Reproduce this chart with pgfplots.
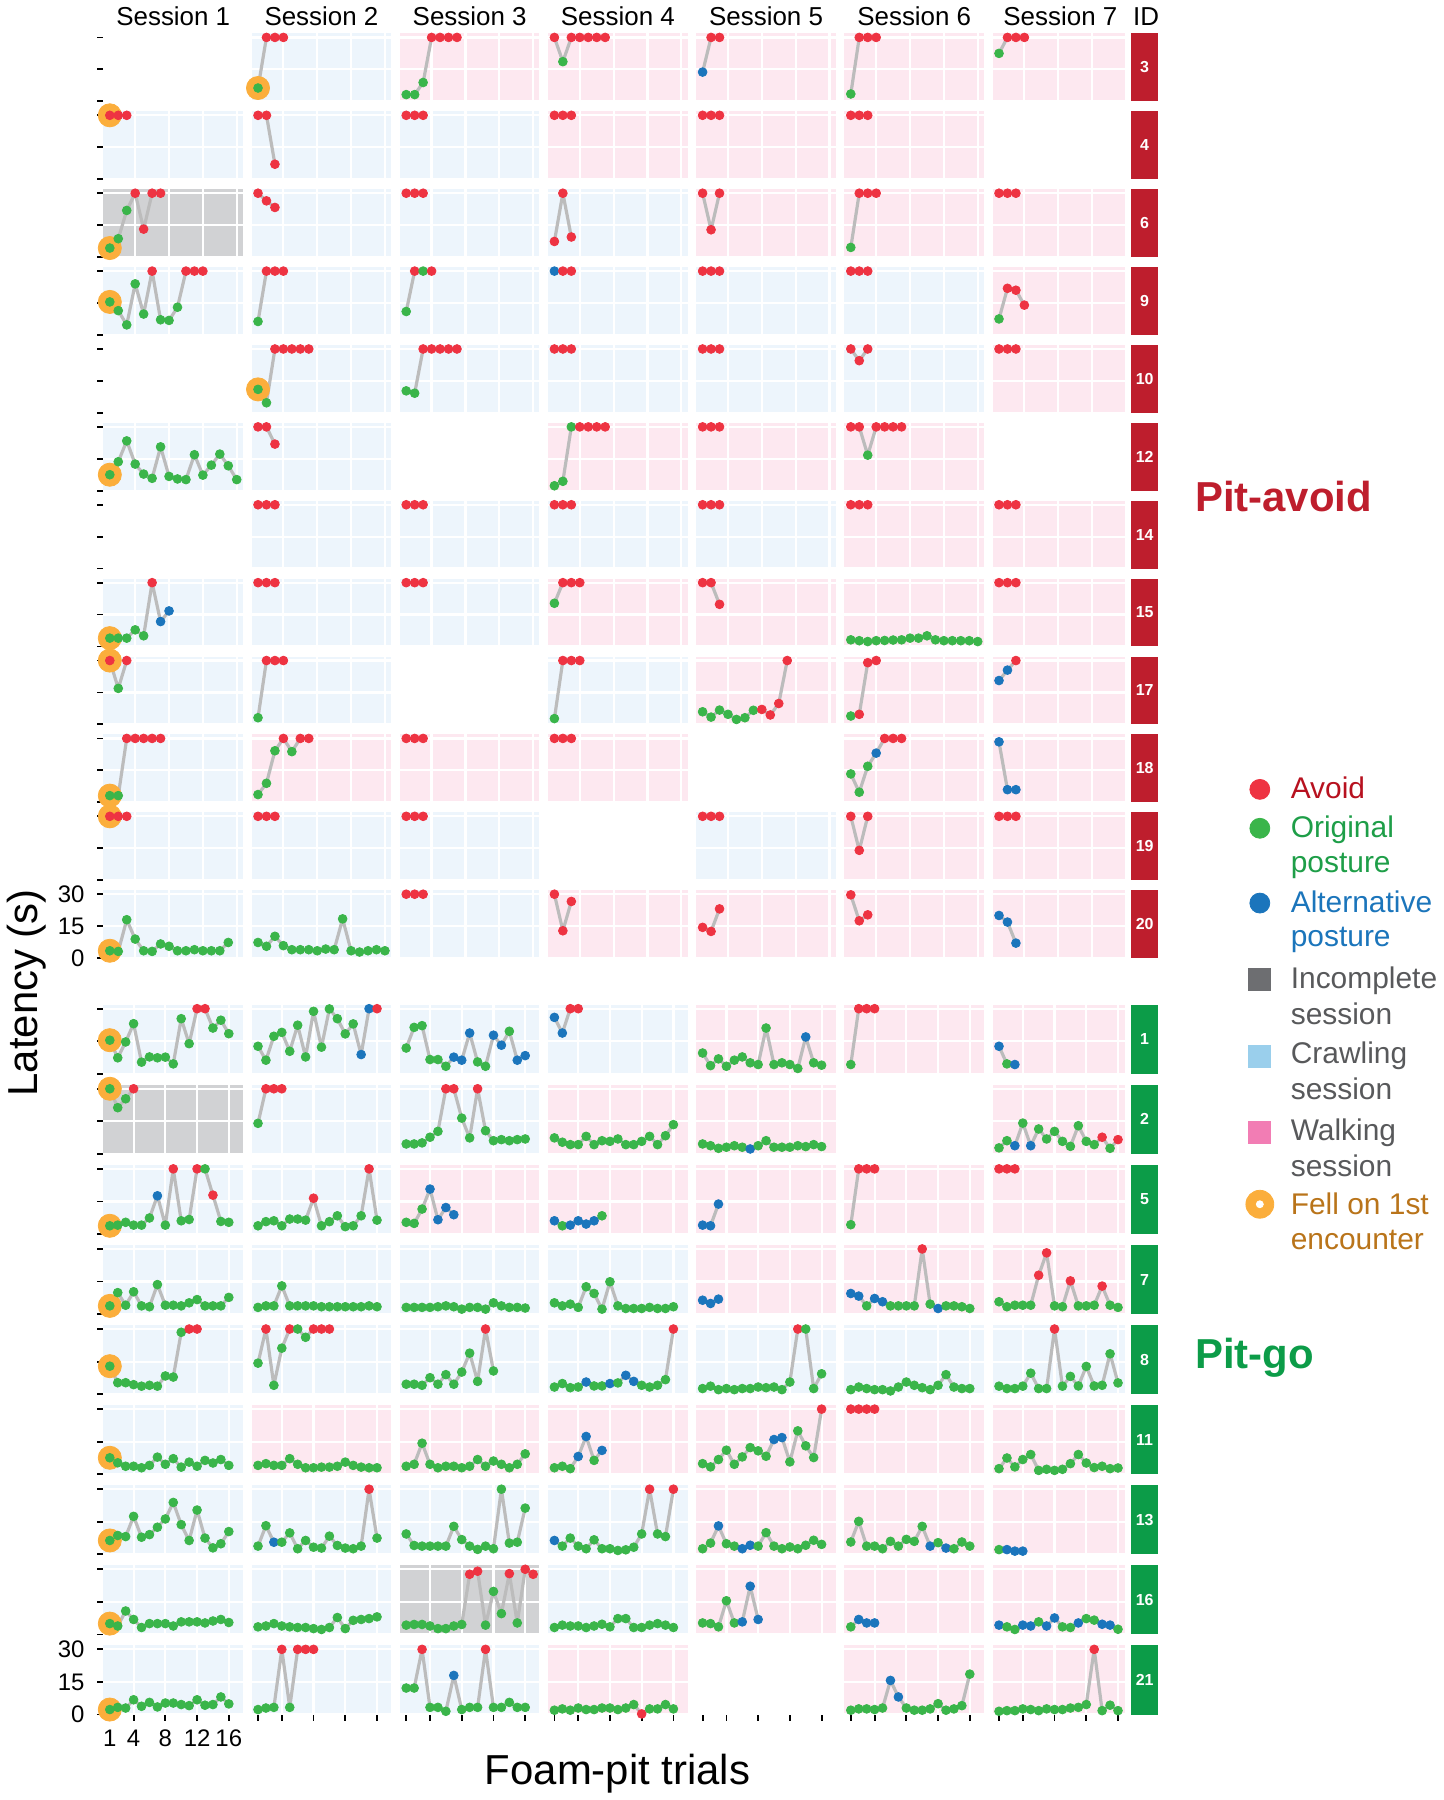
\documentclass[border=0pt]{standalone}
\usepackage{fontspec}
\setmainfont{Liberation Sans}
\usepackage{pgfplots}
\pgfplotsset{compat=1.18}

\definecolor{cr}{HTML}{EE3342}
\definecolor{cg}{HTML}{3AB54A}
\definecolor{cb}{HTML}{1B75BC}
\definecolor{co}{HTML}{FBAE3C}
\definecolor{lg}{HTML}{BCBCBC}
\definecolor{bgc}{HTML}{EDF5FC}
\definecolor{bgw}{HTML}{FDE8F0}
\definecolor{bgi}{HTML}{D1D2D4}
\definecolor{stA}{HTML}{BE1E2D}
\definecolor{stG}{HTML}{0C9C48}
\definecolor{txA}{HTML}{B7111F}
\definecolor{txG}{HTML}{1E9E48}
\definecolor{txB}{HTML}{1B75BB}
\definecolor{txK}{HTML}{58595B}
\definecolor{txO}{HTML}{B9741A}
\definecolor{sqI}{HTML}{6D6E71}
\definecolor{sqC}{HTML}{9ACFEC}
\definecolor{sqW}{HTML}{F27DB4}

\pgfplotsset{
  panel/.style={scale only axis, anchor=south west, ymin=0, ymax=31.9,
    axis line style={draw=none}, xtick={4,8,12,16}, ytick={0,15,30},
    grid=major, grid style={white, line width=1.1pt},
    xticklabel={\relax}, yticklabel={\relax}, tick style={draw=none},
    xtick pos=bottom, ytick pos=left, tick align=outside, major tick length=3pt,
    clip=false, tick label style={font=\fontsize{12}{14}\selectfont},
    yticklabel style={xshift=-3pt}, xticklabel style={yshift=-1pt}},
  c1/.style={ytick style={draw=black, line width=0.9pt}},
  c2/.style={}, c3/.style={}, c4/.style={}, c5/.style={}, c6/.style={}, c7/.style={},
  bot/.style={xtick style={draw=black, line width=0.9pt}, extra x ticks={1},
    extra x tick style={grid=none}},
  ylab/.style={yticklabels={0,15,30}},
  xlab/.style={xticklabels={4,8,12,16}, extra x tick labels={1}},
  ln/.style={no marks, draw=lg, line width=1.6pt, line join=round, line cap=round},
  pts/.style={only marks, scatter, point meta=explicit symbolic, mark size=2.2pt,
    scatter/classes={g={mark=*, draw=cg, fill=cg}, r={mark=*, draw=cr, fill=cr},
      b={mark=*, draw=cb, fill=cb}}},
  fell/.style={only marks, mark=*, mark size=5.8pt, draw=co, fill=co},
}

% one panel of the pit-avoid group: [options]{session}{row}{background}{plots}
\newcommand{\PA}[5][]{%
  \pgfmathsetmacro\xx{(100.5+148.6*(#2-1))*0.5}%
  \pgfmathsetmacro\yy{(1800-99-78.1*#3)*0.5}%
  \pgfmathsetmacro\ww{#2==7?66.5:70}%
  \pgfmathsetmacro\xm{#2==7?15.93:16.75}%
  \begin{axis}[panel, c#2, at={(\xx pt,\yy pt)}, width=\ww pt, height=34pt,
    xmin=0.25, xmax=\xm, axis background/.style={fill=#4}, #1]
  #5
  \end{axis}}
% one panel of the pit-go group
\newcommand{\PG}[5][]{%
  \pgfmathsetmacro\xx{(100.5+148.6*(#2-1))*0.5}%
  \pgfmathsetmacro\yy{(1800-1074.3-80.3*#3)*0.5}%
  \pgfmathsetmacro\ww{#2==7?66.5:70}%
  \pgfmathsetmacro\xm{#2==7?16.92:17.8}%
  \begin{axis}[panel, c#2, at={(\xx pt,\yy pt)}, width=\ww pt, height=34.75pt,
    xmin=0.2, xmax=\xm, axis background/.style={fill=#4}, #1]
  #5
  \end{axis}}
\newcommand{\D}[1]{\addplot[ln] coordinates {#1}; \addplot[pts] coordinates {#1};}
\newcommand{\F}[1]{\addplot[fell] coordinates {#1};}

\begin{document}
\begin{tikzpicture}

% ---------------- Pit-avoid ----------------
% ID 3
\PA{1}{0}{none}{}
\PA{2}{0}{bgc}{\F{(1,6.2)}\D{(1,6.2)[g] (2,30)[r] (3,30)[r] (4,30)[r]}}
\PA{3}{0}{bgw}{\D{(1,3.1)[g] (2,3.1)[g] (3,8.8)[g] (4,30)[r] (5,30)[r] (6,30)[r] (7,30)[r]}}
\PA{4}{0}{bgw}{\D{(1,30)[r] (2,18.6)[g] (3,30)[r] (4,30)[r] (5,30)[r] (6,30)[r] (7,30)[r]}}
\PA{5}{0}{bgw}{\D{(1,13.7)[b] (2,30)[r] (3,30)[r]}}
\PA{6}{0}{bgw}{\D{(1,3.4)[g] (2,30)[r] (3,30)[r] (4,30)[r]}}
\PA{7}{0}{bgw}{\D{(1,22.5)[g] (2,30)[r] (3,30)[r] (4,30)[r]}}
% ID 4
\PA{1}{1}{bgc}{\F{(1,30)}\D{(1,30)[r] (2,30)[r] (3,30)[r]}}
\PA{2}{1}{bgc}{\D{(1,30)[r] (2,30)[r] (3,7)[r]}}
\PA{3}{1}{bgc}{\D{(1,30)[r] (2,30)[r] (3,30)[r]}}
\PA{4}{1}{bgw}{\D{(1,30)[r] (2,30)[r] (3,30)[r]}}
\PA{5}{1}{bgw}{\D{(1,30)[r] (2,30)[r] (3,30)[r]}}
\PA{6}{1}{bgw}{\D{(1,30)[r] (2,30)[r] (3,30)[r]}}
% ID 6
\PA{1}{2}{bgi}{\F{(1,4.2)}\D{(1,4.2)[g] (2,8.6)[g] (3,21.9)[g] (4,30)[r] (5,13.1)[r] (6,30)[r] (7,30)[r]}}
\PA{2}{2}{bgc}{\D{(1,30)[r] (2,26.4)[r] (3,23.3)[r]}}
\PA{3}{2}{bgc}{\D{(1,30)[r] (2,30)[r] (3,30)[r]}}
\PA{4}{2}{bgc}{\D{(1,7.3)[r] (2,30)[r] (3,9.4)[r]}}
\PA{5}{2}{bgw}{\D{(1,30)[r] (2,12.8)[r] (3,30)[r]}}
\PA{6}{2}{bgw}{\D{(1,4.5)[g] (2,30)[r] (3,30)[r] (4,30)[r]}}
\PA{7}{2}{bgw}{\D{(1,30)[r] (2,30)[r] (3,30)[r]}}
% ID 9
\PA{1}{3}{bgc}{\F{(1,15.5)}\D{(1,15.5)[g] (2,11.4)[g] (3,4.7)[g] (4,24)[g] (5,9.8)[g] (6,30)[r] (7,7.1)[g] (8,6.8)[g] (9,13)[g] (10,30)[r] (11,30)[r] (12,30)[r]}}
\PA{2}{3}{bgc}{\D{(1,6.3)[g] (2,30)[r] (3,30)[r] (4,30)[r]}}
\PA{3}{3}{bgc}{\D{(1,11)[g] (2,30)[r] (3,30)[g] (4,30)[r]}}
\PA{4}{3}{bgc}{\D{(1,30)[b] (2,30)[r] (3,30)[r]}}
\PA{5}{3}{bgc}{\D{(1,30)[r] (2,30)[r] (3,30)[r]}}
\PA{6}{3}{bgc}{\D{(1,30)[r] (2,30)[r] (3,30)[r]}}
\PA{7}{3}{bgw}{\D{(1,7.5)[g] (2,21.9)[r] (3,21)[r] (4,14)[r]}}
% ID 10
\PA{1}{4}{none}{}
\PA{2}{4}{bgc}{\F{(1,11)}\D{(1,11)[g] (2,4.7)[g] (3,30)[r] (4,30)[r] (5,30)[r] (6,30)[r] (7,30)[r]}}
\PA{3}{4}{bgc}{\D{(1,10.3)[g] (2,9.2)[g] (3,30)[r] (4,30)[r] (5,30)[r] (6,30)[r] (7,30)[r]}}
\PA{4}{4}{bgc}{\D{(1,30)[r] (2,30)[r] (3,30)[r]}}
\PA{5}{4}{bgc}{\D{(1,30)[r] (2,30)[r] (3,30)[r]}}
\PA{6}{4}{bgc}{\D{(1,30)[r] (2,24.5)[r] (3,30)[r]}}
\PA{7}{4}{bgw}{\D{(1,30)[r] (2,30)[r] (3,30)[r]}}
% ID 12
\PA{1}{5}{bgc}{\F{(1,7.5)}\D{(1,7.5)[g] (2,13.6)[g] (3,23.4)[g] (4,12.5)[g] (5,7.8)[g] (6,5.8)[g] (7,20.6)[g] (8,6.7)[g] (9,5.5)[g] (10,5.2)[g] (11,16.9)[g] (12,7.3)[g] (13,12)[g] (14,17.2)[g] (15,11.7)[g] (16,5.2)[g]}}
\PA{2}{5}{bgc}{\D{(1,30)[r] (2,30)[r] (3,21.9)[r]}}
\PA{4}{5}{bgw}{\D{(1,2.3)[g] (2,4.4)[g] (3,30)[g] (4,30)[r] (5,30)[r] (6,30)[r] (7,30)[r]}}
\PA{5}{5}{bgw}{\D{(1,30)[r] (2,30)[r] (3,30)[r]}}
\PA{6}{5}{bgw}{\D{(1,30)[r] (2,30)[r] (3,16.7)[g] (4,30)[r] (5,30)[r] (6,30)[r] (7,30)[r]}}
% ID 14
\PA{1}{6}{none}{}
\PA{2}{6}{bgc}{\D{(1,30)[r] (2,30)[r] (3,30)[r]}}
\PA{3}{6}{bgc}{\D{(1,30)[r] (2,30)[r] (3,30)[r]}}
\PA{4}{6}{bgc}{\D{(1,30)[r] (2,30)[r] (3,30)[r]}}
\PA{5}{6}{bgc}{\D{(1,30)[r] (2,30)[r] (3,30)[r]}}
\PA{6}{6}{bgw}{\D{(1,30)[r] (2,30)[r] (3,30)[r]}}
\PA{7}{6}{bgw}{\D{(1,30)[r] (2,30)[r] (3,30)[r]}}
% ID 15
\PA{1}{7}{bgc}{\F{(1,3.9)}\D{(1,3.9)[g] (2,3.9)[g] (3,3.9)[g] (4,7.8)[g] (5,5)[g] (6,30)[r] (7,11.7)[b] (8,16.7)[b]}}
\PA{2}{7}{bgc}{\D{(1,30)[r] (2,30)[r] (3,30)[r]}}
\PA{3}{7}{bgc}{\D{(1,30)[r] (2,30)[r] (3,30)[r]}}
\PA{4}{7}{bgw}{\D{(1,20.3)[g] (2,30)[r] (3,30)[r] (4,30)[r]}}
\PA{5}{7}{bgw}{\D{(1,30)[r] (2,30)[r] (3,19.8)[r]}}
\PA{6}{7}{bgw}{\D{(1,3.1)[g] (2,2.7)[g] (3,2.3)[g] (4,2.7)[g] (5,2.8)[g] (6,3)[g] (7,3.1)[g] (8,3.9)[g] (9,3.9)[g] (10,5)[g] (11,3.1)[g] (12,2.7)[g] (13,2.7)[g] (14,2.7)[g] (15,2.7)[g] (16,2.3)[g]}}
\PA{7}{7}{bgw}{\D{(1,30)[r] (2,30)[r] (3,30)[r]}}
% ID 17
\PA{1}{8}{bgc}{\F{(1,30)}\D{(1,30)[r] (2,16.9)[g] (3,30)[r]}}
\PA{2}{8}{bgc}{\D{(1,3.1)[g] (2,30)[r] (3,30)[r] (4,30)[r]}}
\PA{4}{8}{bgc}{\D{(1,2.7)[g] (2,30)[r] (3,30)[r] (4,30)[r]}}
\PA{5}{8}{bgw}{\D{(1,5.9)[g] (2,3.4)[g] (3,6.7)[g] (4,4.7)[g] (5,2.3)[g] (6,3.1)[g] (7,6.6)[g] (8,7)[r] (9,4.4)[r] (10,9.8)[r] (11,30)[r]}}
\PA{6}{8}{bgw}{\D{(1,3.9)[g] (2,4.7)[r] (3,29)[r] (4,30)[r]}}
\PA{7}{8}{bgw}{\D{(1,20.6)[b] (2,25.5)[b] (3,30)[r]}}
% ID 18
\PA{1}{9}{bgc}{\F{(1,3.1)}\D{(1,3.1)[g] (2,3.1)[g] (3,30)[r] (4,30)[r] (5,30)[r] (6,30)[r] (7,30)[r]}}
\PA{2}{9}{bgw}{\D{(1,3.6)[g] (2,8.9)[g] (3,24.2)[g] (4,30)[r] (5,23.8)[g] (6,30)[r] (7,30)[r]}}
\PA{3}{9}{bgw}{\D{(1,30)[r] (2,30)[r] (3,30)[r]}}
\PA{4}{9}{bgw}{\D{(1,30)[r] (2,30)[r] (3,30)[r]}}
\PA{6}{9}{bgw}{\D{(1,13.3)[g] (2,4.7)[g] (3,16.9)[g] (4,23.1)[b] (5,30)[r] (6,30)[r] (7,30)[r]}}
\PA{7}{9}{bgw}{\D{(1,28.4)[b] (2,5.9)[b] (3,5.9)[b]}}
% ID 19
\PA{1}{10}{bgc}{\F{(1,30)}\D{(1,30)[r] (2,30)[r] (3,30)[r]}}
\PA{2}{10}{bgc}{\D{(1,30)[r] (2,30)[r] (3,30)[r]}}
\PA{3}{10}{bgc}{\D{(1,30)[r] (2,30)[r] (3,30)[r]}}
\PA{5}{10}{bgc}{\D{(1,30)[r] (2,30)[r] (3,30)[r]}}
\PA{6}{10}{bgw}{\D{(1,30)[r] (2,14)[r] (3,30)[r]}}
\PA{7}{10}{bgw}{\D{(1,30)[r] (2,30)[r] (3,30)[r]}}
% ID 20
\PA[ylab]{1}{11}{bgc}{\F{(1,3.4)}\D{(1,3.4)[g] (2,3.1)[g] (3,18)[g] (4,8.9)[g] (5,3.4)[g] (6,3.1)[g] (7,6.6)[g] (8,5.5)[g] (9,3.4)[g] (10,3.4)[g] (11,3.9)[g] (12,3.4)[g] (13,3.4)[g] (14,3.4)[g] (15,7.3)[g]}}
\PA{2}{11}{bgc}{\D{(1,7.3)[g] (2,5.5)[g] (3,10.2)[g] (4,5.8)[g] (5,3.9)[g] (6,3.9)[g] (7,3.9)[g] (8,3.4)[g] (9,4.2)[g] (10,3.9)[g] (11,18.4)[g] (12,3.4)[g] (13,2.8)[g] (14,3.4)[g] (15,3.9)[g] (16,3.4)[g]}}
\PA{3}{11}{bgc}{\D{(1,30)[r] (2,30)[r] (3,30)[r]}}
\PA{4}{11}{bgw}{\D{(1,30)[r] (2,12.8)[r] (3,26.6)[r]}}
\PA{5}{11}{bgw}{\D{(1,14.4)[r] (2,12.5)[r] (3,23.1)[r]}}
\PA{6}{11}{bgw}{\D{(1,29.7)[r] (2,17.5)[r] (3,20.3)[r]}}
\PA{7}{11}{bgw}{\D{(1,20)[b] (2,16.9)[b] (3,7)[b]}}

% ---------------- Pit-go ----------------
% ID 1
\PG{1}{0}{bgc}{\F{(1,15.5)}\D{(1,15.5)[g] (2,7.4)[g] (3,14.7)[g] (4,23.1)[g] (5,5.4)[g] (6,7.8)[g] (7,7.4)[g] (8,7.7)[g] (9,4.6)[g] (10,25.4)[g] (11,13.9)[g] (12,30)[r] (13,30)[r] (14,21.1)[g] (15,24.7)[g] (16,18.5)[g]}}
\PG{2}{0}{bgc}{\D{(1,12.7)[g] (2,6.3)[g] (3,17.3)[g] (4,19.1)[g] (5,10.4)[g] (6,22.4)[g] (7,7.8)[g] (8,28.8)[g] (9,12.3)[g] (10,29.9)[g] (11,25.4)[g] (12,18.4)[g] (13,23)[g] (14,8.9)[b] (15,30)[b] (16,30)[r]}}
\PG{3}{0}{bgc}{\D{(1,11.9)[g] (2,21.4)[g] (3,22.2)[g] (4,6.6)[g] (5,6.6)[g] (6,3.5)[g] (7,7.7)[b] (8,6.3)[b] (9,18.8)[b] (10,5.5)[g] (11,3.5)[g] (12,17.8)[b] (13,13.2)[b] (14,19.6)[g] (15,6.3)[b] (16,8.4)[b]}}
\PG{4}{0}{bgc}{\D{(1,26)[b] (2,18.8)[b] (3,30)[r] (4,30)[r]}}
\PG{5}{0}{bgw}{\D{(1,9.6)[g] (2,3.8)[g] (3,6.9)[g] (4,3.5)[g] (5,6.3)[g] (6,7.8)[g] (7,5.1)[g] (8,4.3)[g] (9,21.1)[g] (10,4.3)[g] (11,5.1)[g] (12,4.3)[g] (13,2.5)[g] (14,17)[b] (15,5.1)[g] (16,4)[g]}}
\PG{6}{0}{bgw}{\D{(1,4.3)[g] (2,30)[r] (3,30)[r] (4,30)[r]}}
\PG{7}{0}{bgw}{\D{(1,12.7)[b] (2,4.6)[g] (3,4.3)[b]}}
% ID 2
\PG{1}{1}{bgi}{\F{(1,30)}\D{(1,30)[g] (2,21.3)[g] (3,25.4)[g] (4,30)[r]}}
\PG{2}{1}{bgc}{\D{(1,14.1)[g] (2,30)[r] (3,30)[r] (4,30)[r]}}
\PG{3}{1}{bgc}{\D{(1,4.6)[g] (2,4.6)[g] (3,5.1)[g] (4,7.7)[g] (5,10.4)[g] (6,30)[r] (7,30)[r] (8,16.5)[g] (9,7.4)[g] (10,30)[r] (11,10.7)[g] (12,6.1)[g] (13,6.6)[g] (14,6.1)[g] (15,6.6)[g] (16,6.9)[g]}}
\PG{4}{1}{bgw}{\D{(1,7.4)[g] (2,5.4)[g] (3,4.3)[g] (4,4.3)[g] (5,8.1)[g] (6,4.3)[g] (7,6.1)[g] (8,5.8)[g] (9,6.9)[g] (10,4.3)[g] (11,4.3)[g] (12,5.8)[g] (13,8.1)[g] (14,4.3)[g] (15,8.4)[g] (16,13.5)[g]}}
\PG{5}{1}{bgw}{\D{(1,4.6)[g] (2,3.8)[g] (3,2.6)[g] (4,3.1)[g] (5,3.8)[g] (6,3.1)[g] (7,2.3)[b] (8,3.8)[g] (9,6.1)[g] (10,3.1)[g] (11,3.1)[g] (12,3.1)[g] (13,3.8)[g] (14,3.4)[g] (15,4.3)[g] (16,3.4)[g]}}
\PG{7}{1}{bgw}{\D{(1,2.8)[g] (2,6.1)[g] (3,3.8)[b] (4,14.2)[g] (5,3.8)[b] (6,11.5)[g] (7,6.9)[g] (8,10.4)[g] (9,5.8)[g] (10,3.5)[g] (11,13)[g] (12,5.8)[g] (13,4.3)[g] (14,7.7)[r] (15,2.6)[g] (16,6.6)[r]}}
% ID 5
\PG{1}{2}{bgc}{\F{(1,3.8)}\D{(1,3.8)[g] (2,4.1)[g] (3,5.4)[g] (4,4.1)[g] (5,4.1)[g] (6,7.4)[g] (7,17.6)[b] (8,4.1)[g] (9,30)[r] (10,6.1)[g] (11,6.7)[g] (12,30)[r] (13,30)[g] (14,17.9)[r] (15,5.8)[g] (16,5.4)[g]}}
\PG{2}{2}{bgc}{\D{(1,3.8)[g] (2,5.7)[g] (3,6.1)[g] (4,3.8)[g] (5,6.9)[g] (6,6.9)[g] (7,6.4)[g] (8,16.5)[r] (9,3.8)[g] (10,5.7)[g] (11,8.4)[g] (12,3.4)[g] (13,3.8)[g] (14,8.4)[g] (15,30)[r] (16,6.4)[g]}}
\PG{3}{2}{bgw}{\D{(1,5.4)[g] (2,4.9)[g] (3,11.5)[g] (4,20.7)[b] (5,6.6)[b] (6,12.2)[b] (7,8.9)[b]}}
\PG{4}{2}{bgw}{\D{(1,6.1)[b] (2,3.8)[g] (3,4.1)[b] (4,6.1)[b] (5,4.6)[b] (6,6.1)[b] (7,8.4)[g]}}
\PG{5}{2}{bgw}{\D{(1,4.1)[b] (2,3.8)[b] (3,13.8)[b]}}
\PG{6}{2}{bgw}{\D{(1,4.3)[g] (2,30)[r] (3,30)[r] (4,30)[r]}}
\PG{7}{2}{bgw}{\D{(1,30)[r] (2,30)[r] (3,30)[r]}}
% ID 7
\PG{1}{3}{bgc}{\F{(1,3.8)}\D{(1,3.8)[g] (2,9.9)[g] (3,4.1)[g] (4,10.3)[g] (5,3.8)[g] (6,3.4)[g] (7,13.6)[g] (8,4.1)[g] (9,4.1)[g] (10,3.8)[g] (11,5.2)[g] (12,6.7)[g] (13,3.8)[g] (14,3.8)[g] (15,3.8)[g] (16,7.7)[g]}}
\PG{2}{3}{bgc}{\D{(1,3.1)[g] (2,3.8)[g] (3,3.8)[g] (4,13)[g] (5,3.8)[g] (6,3.8)[g] (7,3.8)[g] (8,3.8)[g] (9,3.4)[g] (10,3.4)[g] (11,3.4)[g] (12,3.4)[g] (13,3.4)[g] (14,3.4)[g] (15,3.8)[g] (16,3.4)[g]}}
\PG{3}{3}{bgc}{\D{(1,3.1)[g] (2,3.1)[g] (3,3.1)[g] (4,3.1)[g] (5,3.4)[g] (6,3.8)[g] (7,3.4)[g] (8,2.3)[g] (9,3.1)[g] (10,3.1)[g] (11,2.3)[g] (12,5.2)[g] (13,3.8)[g] (14,3.1)[g] (15,3.1)[g] (16,2.8)[g]}}
\PG{4}{3}{bgc}{\D{(1,5.2)[g] (2,3.8)[g] (3,4.6)[g] (4,3.1)[g] (5,12.6)[g] (6,9.5)[g] (7,2.3)[g] (8,14.9)[g] (9,3.8)[g] (10,2.6)[g] (11,2.6)[g] (12,2.6)[g] (13,3.1)[g] (14,2.6)[g] (15,2.6)[g] (16,3.4)[g]}}
\PG{5}{3}{bgw}{\D{(1,6.4)[b] (2,4.9)[b] (3,6.9)[b]}}
\PG{6}{3}{bgw}{\D{(1,9.5)[b] (2,8.3)[b] (3,3.8)[g] (4,7.2)[b] (5,5.7)[b] (6,3.8)[g] (7,3.8)[g] (8,3.8)[g] (9,3.8)[g] (10,30)[r] (11,4.6)[g] (12,2.6)[b] (13,3.8)[g] (14,3.8)[g] (15,3.4)[g] (16,2.6)[g]}}
\PG{7}{3}{bgw}{\D{(1,5.7)[g] (2,3.4)[g] (3,4.1)[g] (4,4.1)[g] (5,4.1)[g] (6,17.9)[r] (7,28.2)[r] (8,3.8)[g] (9,3.4)[g] (10,15.3)[r] (11,3.8)[g] (12,3.8)[g] (13,4.1)[g] (14,12.9)[r] (15,4.1)[g] (16,3.1)[g]}}
% ID 8
\PG{1}{4}{bgc}{\F{(1,12.9)}\D{(1,12.9)[g] (2,5.3)[g] (3,5.3)[g] (4,4.4)[g] (5,3.7)[g] (6,4.1)[g] (7,3.7)[g] (8,8.4)[g] (9,7.9)[g] (10,28.5)[g] (11,30)[r] (12,30)[r]}}
\PG{2}{4}{bgc}{\D{(1,14.3)[g] (2,30)[r] (3,4.1)[g] (4,21.2)[g] (5,30)[r] (6,30)[g] (7,26.2)[g] (8,30)[r] (9,30)[r] (10,30)[r]}}
\PG{3}{4}{bgc}{\D{(1,4.6)[g] (2,4.6)[g] (3,4.1)[g] (4,7.6)[g] (5,4.6)[g] (6,9)[g] (7,4.6)[g] (8,10.2)[g] (9,18.9)[g] (10,5.9)[g] (11,30)[r] (12,10.7)[g]}}
\PG{4}{4}{bgc}{\D{(1,3.3)[g] (2,4.9)[g] (3,3)[g] (4,3.3)[g] (5,5.6)[b] (6,3.8)[g] (7,3.8)[g] (8,4.9)[b] (9,5.2)[g] (10,8.7)[b] (11,5.9)[b] (12,4.1)[g] (13,3.3)[g] (14,4.1)[g] (15,6.7)[g] (16,30)[r]}}
\PG{5}{4}{bgc}{\D{(1,2.6)[g] (2,3.7)[g] (3,2.1)[g] (4,2.6)[g] (5,2.1)[g] (6,2.6)[g] (7,2.6)[g] (8,3.3)[g] (9,3)[g] (10,3.3)[g] (11,2.1)[g] (12,5.6)[g] (13,30)[r] (14,30)[g] (15,2.6)[g] (16,9.4)[g]}}
\PG{6}{4}{bgc}{\D{(1,2.1)[g] (2,3.3)[g] (3,2.6)[g] (4,2.1)[g] (5,2.1)[g] (6,1.5)[g] (7,3.3)[g] (8,5.6)[g] (9,4.1)[g] (10,3)[g] (11,2.1)[g] (12,4.1)[g] (13,9)[g] (14,3.3)[g] (15,2.6)[g] (16,2.6)[g]}}
\PG{7}{4}{bgc}{\D{(1,3.7)[g] (2,2.6)[g] (3,2.6)[g] (4,3.7)[g] (5,9.7)[g] (6,2.6)[g] (7,2.6)[g] (8,30)[r] (9,3.7)[g] (10,8.2)[g] (11,3.8)[g] (12,12.8)[g] (13,3.8)[g] (14,4.1)[g] (15,18.6)[g] (16,5.2)[g]}}
% ID 11
\PG{1}{5}{bgc}{\F{(1,7.6)}\D{(1,7.6)[g] (2,5.3)[g] (3,3.7)[g] (4,3.7)[g] (5,3)[g] (6,4.1)[g] (7,7.9)[g] (8,4.6)[g] (9,7.2)[g] (10,3.3)[g] (11,5.6)[g] (12,3.7)[g] (13,6.4)[g] (14,5.2)[g] (15,6.8)[g] (16,4.1)[g]}}
\PG{2}{5}{bgw}{\D{(1,4.1)[g] (2,4.9)[g] (3,4.1)[g] (4,4.1)[g] (5,7.2)[g] (6,4.6)[g] (7,3)[g] (8,3)[g] (9,3.3)[g] (10,3.3)[g] (11,3.7)[g] (12,5.6)[g] (13,4.1)[g] (14,3.3)[g] (15,3)[g] (16,3)[g]}}
\PG{3}{5}{bgw}{\D{(1,3.7)[g] (2,4.6)[g] (3,14.3)[g] (4,4.6)[g] (5,3)[g] (6,3.7)[g] (7,3.7)[g] (8,3)[g] (9,3.7)[g] (10,6.8)[g] (11,3.7)[g] (12,6.1)[g] (13,4.6)[g] (14,3)[g] (15,4.6)[g] (16,9.4)[g]}}
\PG{4}{5}{bgw}{\D{(1,3)[g] (2,3.7)[g] (3,2.6)[g] (4,8.2)[b] (5,17.4)[b] (6,6.4)[g] (7,11)[b]}}
\PG{5}{5}{bgw}{\D{(1,4.9)[g] (2,3.4)[g] (3,6.8)[g] (4,11.1)[g] (5,4.6)[g] (6,8)[g] (7,12.3)[g] (8,10.8)[g] (9,8.3)[g] (10,16)[b] (11,16.9)[b] (12,5.7)[g] (13,20)[g] (14,13.1)[g] (15,7.7)[g] (16,30)[r]}}
\PG{6}{5}{bgw}{\D{(1,30)[r] (2,30)[r] (3,30)[r] (4,30)[r]}}
\PG{7}{5}{bgw}{\D{(1,2.6)[g] (2,7.5)[g] (3,3.4)[g] (4,6.8)[g] (5,9.1)[g] (6,1.8)[g] (7,2.3)[g] (8,1.8)[g] (9,2.3)[g] (10,4.9)[g] (11,9.1)[g] (12,5.2)[g] (13,3.1)[g] (14,3.7)[g] (15,2.6)[g] (16,2.9)[g]}}
% ID 13
\PG{1}{6}{bgc}{\F{(1,6.4)}\D{(1,6.4)[g] (2,8.7)[g] (3,8.2)[g] (4,17.5)[g] (5,7.9)[g] (6,9.1)[g] (7,12.5)[g] (8,16.3)[g] (9,23.9)[g] (10,13.7)[g] (11,6.4)[g] (12,20.4)[g] (13,7.5)[g] (14,3)[g] (15,4.9)[g] (16,10.5)[g]}}
\PG{2}{6}{bgc}{\D{(1,3.8)[g] (2,13.2)[g] (3,5.6)[b] (4,5.6)[g] (5,9.9)[g] (6,2.6)[g] (7,6.4)[g] (8,3.3)[g] (9,2.9)[g] (10,8.4)[g] (11,4.1)[g] (12,2.9)[g] (13,2.6)[g] (14,3.8)[g] (15,30)[r] (16,7.5)[g]}}
\PG{3}{6}{bgc}{\D{(1,9.4)[g] (2,4.1)[g] (3,3.8)[g] (4,3.8)[g] (5,3.8)[g] (6,3.8)[g] (7,12.9)[g] (8,6.8)[g] (9,3.8)[g] (10,2.3)[g] (11,3.8)[g] (12,2.6)[g] (13,30)[g] (14,5.2)[g] (15,5.6)[g] (16,21.3)[g]}}
\PG{4}{6}{bgc}{\D{(1,6.4)[b] (2,3.8)[g] (3,7.5)[g] (4,3.8)[g] (5,2.6)[g] (6,6.7)[g] (7,2.6)[g] (8,2.6)[g] (9,1.8)[g] (10,2.1)[g] (11,3.3)[g] (12,9.4)[g] (13,30)[r] (14,9.4)[g] (15,8.2)[g] (16,30)[r]}}
\PG{5}{6}{bgw}{\D{(1,2.6)[g] (2,5.2)[g] (3,13.1)[b] (4,4.9)[g] (5,3.8)[g] (6,2.6)[b] (7,4.2)[b] (8,3.8)[g] (9,10)[g] (10,3.8)[g] (11,2.6)[g] (12,3.4)[g] (13,2.6)[g] (14,4.2)[g] (15,6.5)[g] (16,4.6)[g]}}
\PG{6}{6}{bgw}{\D{(1,5.7)[g] (2,15.2)[g] (3,3.8)[g] (4,3.8)[g] (5,2.6)[g] (6,6)[g] (7,3.8)[g] (8,6.9)[g] (9,6)[g] (10,12.9)[g] (11,3.8)[b] (12,5.4)[g] (13,2.9)[b] (14,2.6)[g] (15,5.7)[g] (16,3.8)[g]}}
\PG{7}{6}{bgw}{\D{(1,2.2)[g] (2,2.2)[b] (3,1.5)[b] (4,1.5)[b]}}
% ID 16
\PG{1}{7}{bgc}{\F{(1,5)}\D{(1,5)[g] (2,3.9)[g] (3,10.8)[g] (4,6.9)[g] (5,3.2)[g] (6,5)[g] (7,5)[g] (8,5)[g] (9,3.9)[g] (10,5.8)[g] (11,5.8)[g] (12,5.8)[g] (13,5.3)[g] (14,6.2)[g] (15,6.9)[g] (16,5.5)[g]}}
\PG{2}{7}{bgc}{\D{(1,3.5)[g] (2,3.9)[g] (3,5)[g] (4,3.9)[g] (5,3.5)[g] (6,3.2)[g] (7,3.2)[g] (8,2.7)[g] (9,2.3)[g] (10,3.2)[g] (11,7.8)[g] (12,2.7)[g] (13,6.5)[g] (14,6.9)[g] (15,7.3)[g] (16,8.1)[g]}}
\PG{3}{7}{bgi}{\D{(1,4.3)[g] (2,4.6)[g] (3,4.6)[g] (4,3.9)[g] (5,2.7)[g] (6,2.7)[g] (7,3.9)[g] (8,4.6)[g] (9,27.7)[r] (10,29.1)[r] (11,4.3)[g] (12,19.8)[g] (13,9.6)[g] (14,28)[r] (15,5.3)[g] (16,30)[r] (17,27.7)[r]}}
\PG{4}{7}{bgc}{\D{(1,3.2)[g] (2,4.3)[g] (3,3.9)[g] (4,3.9)[g] (5,3.2)[g] (6,3.9)[g] (7,4.7)[g] (8,3.5)[g] (9,7.3)[g] (10,7.3)[g] (11,3.2)[g] (12,3.2)[g] (13,4.3)[g] (14,5)[g] (15,4.3)[g] (16,3.2)[g]}}
\PG{5}{7}{bgw}{\D{(1,5.3)[g] (2,5)[g] (3,3.5)[g] (4,15.5)[g] (5,5.3)[g] (6,5.8)[b] (7,22.2)[b] (8,6.9)[b]}}
\PG{6}{7}{bgw}{\D{(1,3.5)[g] (2,6.9)[b] (3,5.3)[b] (4,5.3)[b]}}
\PG{7}{7}{bgw}{\D{(1,4.3)[b] (2,3.5)[g] (3,2.3)[g] (4,4.3)[b] (5,3.9)[b] (6,5.8)[g] (7,3.9)[b] (8,7.6)[b] (9,3.5)[g] (10,3.2)[g] (11,5.3)[b] (12,7.3)[g] (13,6.6)[g] (14,4.7)[b] (15,4.3)[b] (16,2.4)[g]}}
% ID 21
\PG[bot,xlab,ylab]{1}{8}{bgc}{\F{(1,2.3)}\D{(1,2.3)[g] (2,3.3)[g] (3,3)[g] (4,6.8)[g] (5,3.8)[g] (6,5.6)[g] (7,3.5)[g] (8,5.3)[g] (9,5.3)[g] (10,4.6)[g] (11,4.1)[g] (12,6.8)[g] (13,4.3)[g] (14,4.6)[g] (15,8.1)[g] (16,4.9)[g]}}
\PG[bot]{2}{8}{bgc}{\D{(1,2.3)[g] (2,3)[g] (3,3.3)[g] (4,30)[r] (5,3.3)[g] (6,30)[r] (7,30)[r] (8,30)[r]}}
\PG[bot]{3}{8}{bgc}{\D{(1,12.2)[g] (2,12.2)[g] (3,30)[r] (4,3.3)[g] (5,3.3)[g] (6,1.5)[g] (7,18)[b] (8,2.3)[g] (9,3.3)[g] (10,3.3)[g] (11,30)[r] (12,3.3)[g] (13,3.3)[g] (14,5.6)[g] (15,3.3)[g] (16,3.3)[g]}}
\PG[bot]{4}{8}{bgw}{\D{(1,2)[g] (2,2.6)[g] (3,2)[g] (4,3)[g] (5,2.3)[g] (6,2.3)[g] (7,3)[g] (8,3)[g] (9,2.3)[g] (10,3)[g] (11,4.6)[g] (12,0.3)[r] (13,2.6)[g] (14,2.6)[g] (15,4.6)[g] (16,2.6)[g]}}
\PG[bot]{5}{8}{none}{}
\PG[bot]{6}{8}{bgw}{\D{(1,2)[g] (2,2.6)[g] (3,2.6)[g] (4,2.3)[g] (5,3)[g] (6,15.7)[b] (7,8.1)[b] (8,3)[g] (9,2)[g] (10,2)[g] (11,2.6)[g] (12,5)[g] (13,2)[g] (14,2.6)[g] (15,4.1)[g] (16,18.6)[g]}}
\PG[bot]{7}{8}{bgw}{\D{(1,1.5)[g] (2,1.8)[g] (3,1.8)[g] (4,2.6)[g] (5,2.3)[g] (6,1.8)[g] (7,2.6)[g] (8,2.3)[g] (9,2.3)[g] (10,3)[g] (11,3.3)[g] (12,4.6)[g] (13,30)[r] (14,1.8)[g] (15,4.3)[g] (16,1.8)[g]}}

% ---------------- frame: titles, ID strips, legend (pixel coordinates) ----------------
\begin{axis}[at={(0pt,0pt)}, anchor=south west, scale only axis, width=718pt, height=900pt,
  xmin=0, xmax=1436, ymin=0, ymax=1800, y dir=reverse, hide axis, clip=false]
  \path (axis cs:0,0) rectangle (axis cs:1436,1800);
  % session headers
  \node[anchor=base, font=\fontsize{13}{15}\selectfont] at (axis cs:170.5,23) {Session 1};
  \node[anchor=base, font=\fontsize{13}{15}\selectfont] at (axis cs:319.1,23) {Session 2};
  \node[anchor=base, font=\fontsize{13}{15}\selectfont] at (axis cs:467.7,23) {Session 3};
  \node[anchor=base, font=\fontsize{13}{15}\selectfont] at (axis cs:616.3,23) {Session 4};
  \node[anchor=base, font=\fontsize{13}{15}\selectfont] at (axis cs:764.9,23) {Session 5};
  \node[anchor=base, font=\fontsize{13}{15}\selectfont] at (axis cs:913.5,23) {Session 6};
  \node[anchor=base, font=\fontsize{13}{15}\selectfont] at (axis cs:1060,23) {Session 7};
  \node[anchor=base, font=\fontsize{13}{15}\selectfont] at (axis cs:1146,23) {ID};
  % axis titles
  \node[rotate=90, font=\fontsize{21}{24}\selectfont] at (axis cs:23,993) {Latency (s)};
  \node[anchor=base, font=\fontsize{21}{24}\selectfont] at (axis cs:616,1787) {Foam-pit trials};
  \node[anchor=base west, font=\fontsize{21}{24}\selectfont\bfseries, text=stA] at (axis cs:1188,510) {Pit-avoid};
  \node[anchor=base west, font=\fontsize{21}{24}\selectfont\bfseries, text=stG] at (axis cs:1188,1370) {Pit-go};
  % ID strips, pit-avoid
  \fill[stA] (axis cs:1131,31) rectangle (axis cs:1158,99);
  \fill[stA] (axis cs:1131,109.1) rectangle (axis cs:1158,177.1);
  \fill[stA] (axis cs:1131,187.2) rectangle (axis cs:1158,255.2);
  \fill[stA] (axis cs:1131,265.3) rectangle (axis cs:1158,333.3);
  \fill[stA] (axis cs:1131,343.4) rectangle (axis cs:1158,411.4);
  \fill[stA] (axis cs:1131,421.5) rectangle (axis cs:1158,489.5);
  \fill[stA] (axis cs:1131,499.6) rectangle (axis cs:1158,567.6);
  \fill[stA] (axis cs:1131,577.7) rectangle (axis cs:1158,645.7);
  \fill[stA] (axis cs:1131,655.8) rectangle (axis cs:1158,723.8);
  \fill[stA] (axis cs:1131,733.9) rectangle (axis cs:1158,801.9);
  \fill[stA] (axis cs:1131,812) rectangle (axis cs:1158,880);
  \fill[stA] (axis cs:1131,890.1) rectangle (axis cs:1158,958.1);
  % ID strips, pit-go
  \fill[stG] (axis cs:1131,1004.8) rectangle (axis cs:1158,1074.3);
  \fill[stG] (axis cs:1131,1085.1) rectangle (axis cs:1158,1154.6);
  \fill[stG] (axis cs:1131,1165.4) rectangle (axis cs:1158,1234.9);
  \fill[stG] (axis cs:1131,1245.7) rectangle (axis cs:1158,1315.2);
  \fill[stG] (axis cs:1131,1326) rectangle (axis cs:1158,1395.5);
  \fill[stG] (axis cs:1131,1406.3) rectangle (axis cs:1158,1475.8);
  \fill[stG] (axis cs:1131,1486.6) rectangle (axis cs:1158,1556.1);
  \fill[stG] (axis cs:1131,1566.9) rectangle (axis cs:1158,1636.4);
  \fill[stG] (axis cs:1131,1647.2) rectangle (axis cs:1158,1716.7);
  \begin{scope}[every node/.style={text=white, font=\fontsize{8}{9}\selectfont\bfseries}]
    \node at (axis cs:1144.5,65) {3};
    \node at (axis cs:1144.5,143.1) {4};
    \node at (axis cs:1144.5,221.2) {6};
    \node at (axis cs:1144.5,299.3) {9};
    \node at (axis cs:1144.5,377.4) {10};
    \node at (axis cs:1144.5,455.5) {12};
    \node at (axis cs:1144.5,533.6) {14};
    \node at (axis cs:1144.5,611.7) {15};
    \node at (axis cs:1144.5,689.8) {17};
    \node at (axis cs:1144.5,767.9) {18};
    \node at (axis cs:1144.5,846) {19};
    \node at (axis cs:1144.5,924.1) {20};
    \node at (axis cs:1144.5,1039.6) {1};
    \node at (axis cs:1144.5,1119.9) {2};
    \node at (axis cs:1144.5,1200.2) {5};
    \node at (axis cs:1144.5,1280.5) {7};
    \node at (axis cs:1144.5,1360.8) {8};
    \node at (axis cs:1144.5,1441.1) {11};
    \node at (axis cs:1144.5,1521.4) {13};
    \node at (axis cs:1144.5,1601.7) {16};
    \node at (axis cs:1144.5,1682) {21};
  \end{scope}
  % legend
  \addplot[only marks, mark=*, mark size=5pt, draw=cr, fill=cr] coordinates {(1260,789)};
  \addplot[only marks, mark=*, mark size=5pt, draw=cg, fill=cg] coordinates {(1260,828)};
  \addplot[only marks, mark=*, mark size=5pt, draw=cb, fill=cb] coordinates {(1260,903)};
  \addplot[only marks, mark=square*, mark size=5.5pt, draw=sqI, fill=sqI] coordinates {(1260,980)};
  \addplot[only marks, mark=square*, mark size=5.5pt, draw=sqC, fill=sqC] coordinates {(1260,1057)};
  \addplot[only marks, mark=square*, mark size=5.5pt, draw=sqW, fill=sqW] coordinates {(1260,1133)};
  \addplot[only marks, mark=*, mark size=7pt, draw=co, fill=co] coordinates {(1260,1205)};
  \addplot[only marks, mark=*, mark size=1.75pt, draw=white, fill=white] coordinates {(1260,1205)};
  \begin{scope}[every node/.style={anchor=base west, font=\fontsize{15}{18}\selectfont}]
    \node[text=txA] at (axis cs:1284,798) {Avoid};
    \node[text=txG] at (axis cs:1284,837) {Original};
    \node[text=txG] at (axis cs:1284,872) {posture};
    \node[text=txB] at (axis cs:1284,912) {Alternative};
    \node[text=txB] at (axis cs:1284,947) {posture};
    \node[text=txK] at (axis cs:1284,989) {Incomplete};
    \node[text=txK] at (axis cs:1284,1025) {session};
    \node[text=txK] at (axis cs:1284,1064) {Crawling};
    \node[text=txK] at (axis cs:1284,1100) {session};
    \node[text=txK] at (axis cs:1284,1141) {Walking};
    \node[text=txK] at (axis cs:1284,1177) {session};
    \node[text=txO] at (axis cs:1284,1215) {Fell on 1st};
    \node[text=txO] at (axis cs:1284,1250) {encounter};
  \end{scope}
\end{axis}
\end{tikzpicture}
\end{document}
